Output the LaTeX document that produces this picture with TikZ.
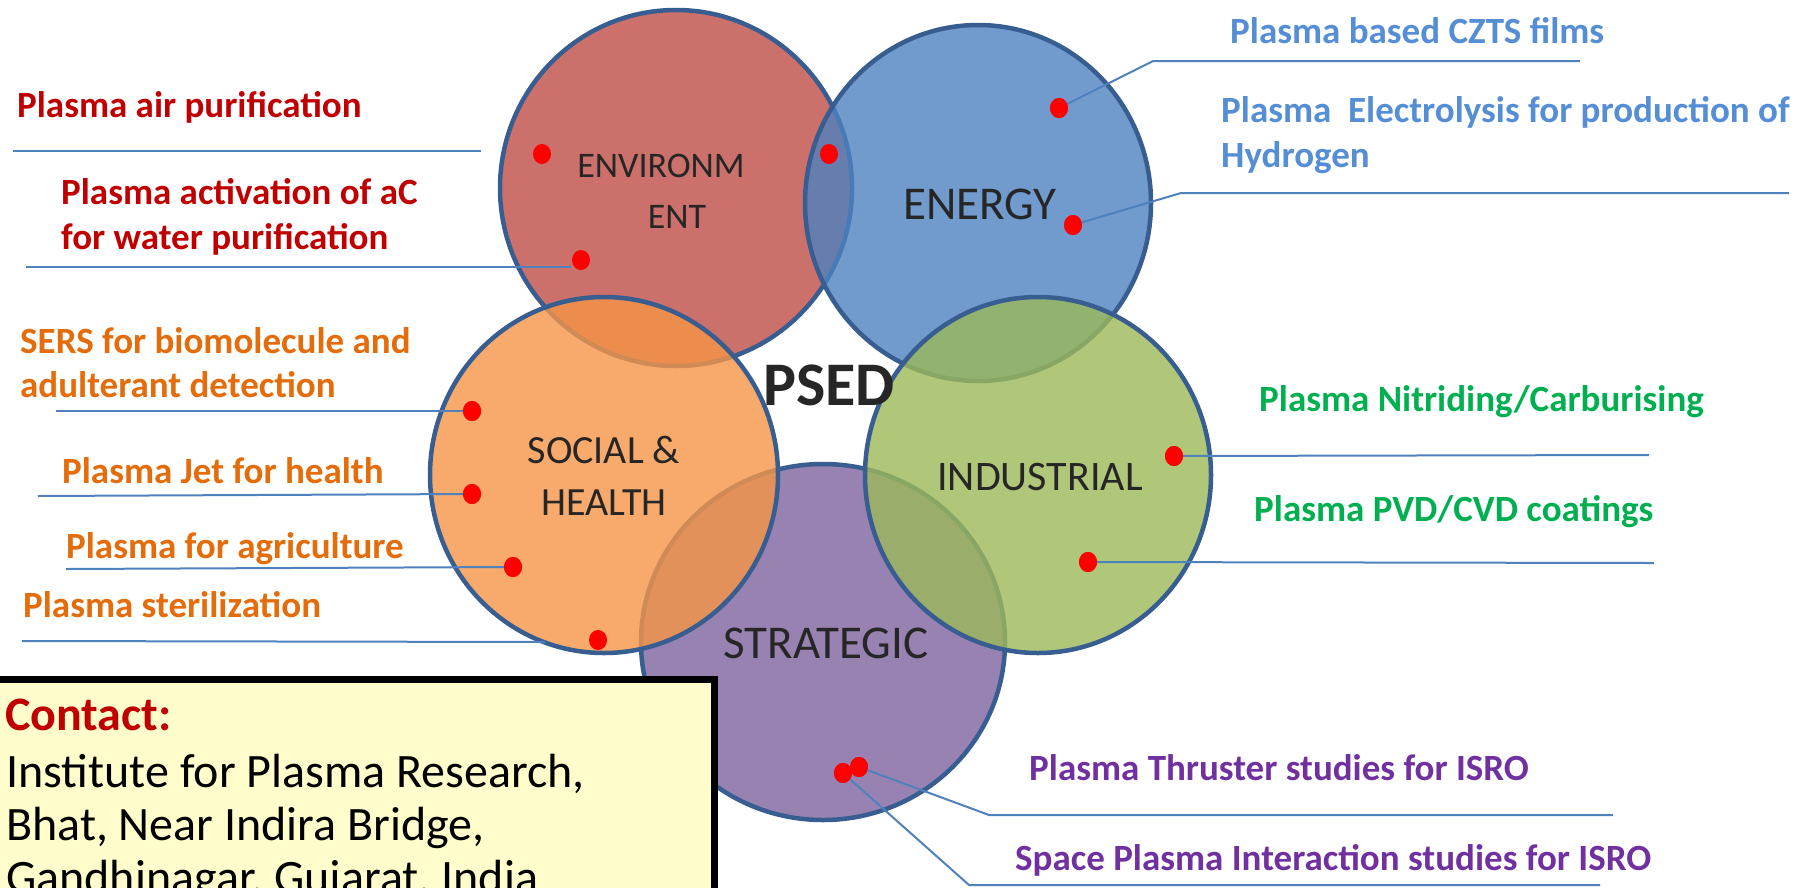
\documentclass[tikz,border=0pt]{standalone}
\usepackage{fontspec}
\setmainfont{Carlito}
\usetikzlibrary{shapes.geometric}

\definecolor{ringline}{RGB}{56,94,145}
\definecolor{leadline}{RGB}{79,129,189}
\definecolor{envfill}{RGB}{191,76,71}
\definecolor{enefill}{RGB}{77,130,191}
\definecolor{socfill}{RGB}{245,149,70}
\definecolor{indfill}{RGB}{156,185,89}
\definecolor{strfill}{RGB}{126,99,159}
\definecolor{txtred}{RGB}{192,0,0}
\definecolor{txtorange}{RGB}{228,108,10}
\definecolor{txtblue}{RGB}{85,142,213}
\definecolor{txtgreen}{RGB}{0,176,80}
\definecolor{txtpurple}{RGB}{112,48,160}
\definecolor{labelgray}{RGB}{38,38,38}
\definecolor{boxyellow}{RGB}{255,253,204}

\tikzset{
  ring/.style={ellipse, draw=ringline, line width=4.5pt, fill opacity=0.8, inner sep=0pt},
  reddot/.style={ellipse, fill=red, minimum width=18pt, minimum height=20pt, inner sep=0pt},
  lead/.style={draw=leadline, line width=2pt},
  item/.style={anchor=base west, inner sep=0pt, font=\fontsize{37}{44}\selectfont\bfseries},
  ringlabel/.style={anchor=base, inner sep=0pt, text=labelgray},
  contactbox/.style={draw=black, line width=7pt, fill=boxyellow, anchor=north west, inner sep=0pt},
  contacttext/.style={anchor=base west, inner sep=0pt, font=\fontsize{48}{56}\selectfont}
}

\begin{document}
\begin{tikzpicture}[x=1pt, y=-1pt]
\useasboundingbox (0,0) rectangle (1806,887);
\clip (0,0) rectangle (1806,887);

% the five overlapping fields
\node[ring, fill=envfill, minimum width=352pt, minimum height=356pt] (env) at (676,188) {};
\node[ring, fill=enefill, minimum width=346pt, minimum height=356pt] (ene) at (978,203) {};
\node[ring, fill=strfill, minimum width=364pt, minimum height=356pt] (str) at (823,642) {};
\node[ring, fill=socfill, minimum width=348pt, minimum height=356pt] (soc) at (604,475) {};
\node[ring, fill=indfill, minimum width=346pt, minimum height=356pt] (ind) at (1038,475) {};

% field names
\node[ringlabel, font=\fontsize{36}{44}\selectfont] (envA) at (661,177) {ENVIRONM};
\node[ringlabel, font=\fontsize{36}{44}\selectfont] (envB) at (677,228) {ENT};
\node[ringlabel, font=\fontsize{47}{56}\selectfont] (eneL) at (980,219) {ENERGY};
\node[ringlabel, font=\fontsize{40}{48}\selectfont] (socA) at (604,463) {SOCIAL \&};
\node[ringlabel, font=\fontsize{40}{48}\selectfont] (socB) at (604,515) {HEALTH};
\node[ringlabel, font=\fontsize{42}{50}\selectfont] (indL) at (1040,490) {INDUSTRIAL};
\node[ringlabel, font=\fontsize{47}{56}\selectfont] (strL) at (826,658) {STRATEGIC};
\node[anchor=base, inner sep=0pt, text=labelgray, font=\fontsize{62}{70}\selectfont\bfseries] (psed) at (829,405) {PSED};

% free ends of the leader lines
\coordinate (a1) at (13,151);   \coordinate (a2) at (481,151);
\coordinate (w1) at (26,267);   \coordinate (w2) at (571,267);
\coordinate (s1) at (56,411);
\coordinate (j1) at (38,496);
\coordinate (g1) at (66,569);
\coordinate (t1) at (22,641);   \coordinate (t2) at (545,642);
\coordinate (c1) at (1153,61);  \coordinate (c2) at (1580,61);
\coordinate (h1) at (1181,193); \coordinate (h2) at (1789,193);
\coordinate (n1) at (1649,455);
\coordinate (p1) at (1654,563);
\coordinate (r1) at (989,815);  \coordinate (r2) at (1613,815);
\coordinate (q1) at (969,885);  \coordinate (q2) at (1600,885);

% dots
\node[reddot] (d1) at (542,154) {};
\node[reddot] (d2) at (829,154) {};
\node[reddot] (d3) at (581,260) {};
\node[reddot] (d4) at (472,411) {};
\node[reddot] (d5) at (472,494) {};
\node[reddot] (d6) at (513,567) {};
\node[reddot] (d7) at (598,640) {};
\node[reddot] (d8) at (1059,108) {};
\node[reddot] (d9) at (1073,225) {};
\node[reddot] (d10) at (1174,456) {};
\node[reddot] (d11) at (1088,562) {};
\node[reddot] (d12) at (843,773) {};
\node[reddot] (d13) at (859,767) {};

% leader lines
\draw[lead] (a1) -- (a2);
\draw[lead] (w1) -- (w2);
\draw[lead] (s1) -- (d4.center);
\draw[lead] (j1) -- (d5.center);
\draw[lead] (g1) -- (d6.center);
\draw[lead] (t1) -- (t2);
\draw[lead] (d8.center) -- (c1) -- (c2);
\draw[lead] (d9.center) -- (h1) -- (h2);
\draw[lead] (d10.center) -- (n1);
\draw[lead] (d11.center) -- (p1);
\draw[lead] (d13.center) -- (r1) -- (r2);
\draw[lead] (d12.center) -- (q1) -- (q2);

% dots again on top of the lines
\foreach \d in {d4,d5,d6,d8,d9,d10,d11,d12,d13}
  \fill[red] (\d.center) ellipse [x radius=9pt, y radius=10pt];

% activity labels
\node[item, text=txtred] (t-air) at (17,117) {Plasma air purification};
\node[item, text=txtred] (t-ac1) at (61,204) {Plasma activation of aC};
\node[item, text=txtred] (t-ac2) at (61,249) {for water purification};
\node[item, text=txtorange] (t-sers1) at (20,353) {SERS for biomolecule and};
\node[item, text=txtorange] (t-sers2) at (20,397) {adulterant detection};
\node[item, text=txtorange] (t-jet) at (62,483) {Plasma Jet for health};
\node[item, text=txtorange] (t-agri) at (66,558) {Plasma for agriculture};
\node[item, text=txtorange] (t-ster) at (23,617) {Plasma sterilization};
\node[item, text=txtblue] (t-czts) at (1230,43) {Plasma based CZTS films};
\node[item, text=txtblue] (t-h1) at (1221,122) {Plasma\ \ Electrolysis for production of};
\node[item, text=txtblue] (t-h2) at (1221,167) {Hydrogen};
\node[item, text=txtgreen] (t-nit) at (1259,411) {Plasma Nitriding/Carburising};
\node[item, text=txtgreen] (t-pvd) at (1254,521) {Plasma PVD/CVD coatings};
\node[item, text=txtpurple] (t-thr) at (1029,780) {Plasma Thruster studies for ISRO};
\node[item, text=txtpurple] (t-spc) at (1015,870) {Space Plasma Interaction studies for ISRO};

% contact box
\node[contactbox, minimum width=740pt, minimum height=260pt] (box) at (-29,675.5) {};
\node[contacttext, text=txtred, font=\fontsize{48}{56}\selectfont\bfseries] (c-head) at (5,730) {Contact:};
\node[contacttext] (c-l1) at (6,787) {Institute for Plasma Research,};
\node[contacttext] (c-l2) at (6,840) {Bhat, Near Indira Bridge,};
\node[contacttext] (c-l3) at (6,893) {Gandhinagar, Gujarat, India};
\end{tikzpicture}
\end{document}
